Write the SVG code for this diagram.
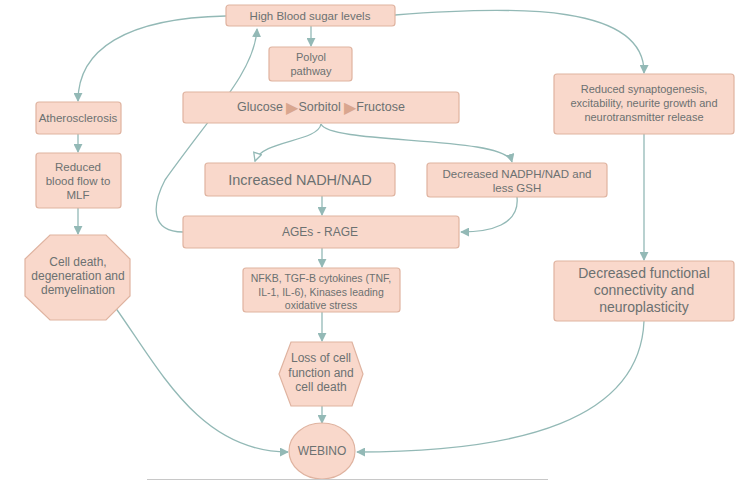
<svg xmlns="http://www.w3.org/2000/svg" width="750" height="481" viewBox="0 0 750 481">
<defs>
<style>
.n{fill:#f9d8cb;stroke:#dfb3a0;stroke-width:1.2}
.t{font-family:"Liberation Sans",Arial,sans-serif;fill:#6c7171;text-anchor:middle;dominant-baseline:central}
.c{fill:none;stroke:#93b9b6;stroke-width:1.3}
.tri{fill:#d9a68f;font-size:16px}
</style>
<marker id="a" viewBox="0 0 10 10" refX="9" refY="5" markerWidth="9" markerHeight="9" markerUnits="userSpaceOnUse" orient="auto">
<path d="M0,0 L10,5 L0,10 Z" fill="#93b9b6"/>
</marker>
<marker id="o" viewBox="0 0 10 10" refX="9" refY="5" markerWidth="10" markerHeight="10" markerUnits="userSpaceOnUse" orient="auto">
<path d="M1,1 L9,5 L1,9 Z" fill="#fff" stroke="#93b9b6" stroke-width="1.3"/>
</marker>
</defs>
<rect width="750" height="481" fill="#fff"/>
<g id="connectors">
<path class="c" d="M311,26 L311,46" marker-end="url(#a)"/>
<path class="c" d="M226,16 C125,18 78,50 78,101" marker-end="url(#a)"/>
<path class="c" d="M395,15 C520,5 645,5 644,73" marker-end="url(#a)"/>
<path class="c" d="M321,124 C318,142 262,140 255,161" marker-end="url(#o)"/>
<path class="c" d="M321,124 C330,145 505,135 512,162" marker-end="url(#a)"/>
<path class="c" d="M322,196 L322,215" marker-end="url(#a)"/>
<path class="c" d="M517,197 C520,225 490,232 461,232" marker-end="url(#a)"/>
<path class="c" d="M183,232 C150,232 152,205 165,180 C215,110 255,70 257,29" marker-end="url(#a)"/>
<path class="c" d="M322,248 L322,267" marker-end="url(#a)"/>
<path class="c" d="M322,312 L322,341" marker-end="url(#a)"/>
<path class="c" d="M322,406 L322,423" marker-end="url(#a)"/>
<path class="c" d="M78,134 L78,152" marker-end="url(#a)"/>
<path class="c" d="M78,208 L78,234" marker-end="url(#a)"/>
<path class="c" d="M115,307 C160,370 200,452 288,452" marker-end="url(#a)"/>
<path class="c" d="M644,134 L644,260" marker-end="url(#a)"/>
<path class="c" d="M644,321 C640,420 520,452 357,452" marker-end="url(#a)"/>
</g>
<g id="high-blood-sugar"><rect class="n" x="226" y="5" width="169" height="21" rx="3"/><text class="t" x="310" y="16" font-size="11.5">High Blood sugar levels</text></g>
<g id="polyol"><rect class="n" x="269" y="47" width="83" height="34" rx="3"/><text class="t" x="311" y="57" font-size="11">Polyol</text><text class="t" x="311" y="71" font-size="11">pathway</text></g>
<g id="glucose"><rect class="n" x="183" y="92" width="276" height="31" rx="3"/><text class="t" x="321" y="107" font-size="12.5">Glucose <tspan class="tri">▶</tspan>Sorbitol <tspan class="tri">▶</tspan>Fructose</text></g>
<g id="nadh"><rect class="n" x="205" y="163" width="190" height="33" rx="3"/><text class="t" x="300" y="180" font-size="14.5">Increased NADH/NAD</text></g>
<g id="nadph"><rect class="n" x="427" y="163" width="180" height="34" rx="3"/><text class="t" x="517" y="174" font-size="11.5">Decreased NADPH/NAD and</text><text class="t" x="517" y="188" font-size="11.5">less GSH</text></g>
<g id="ages"><rect class="n" x="183" y="216" width="276" height="32" rx="3"/><text class="t" x="320" y="232" font-size="12">AGEs - RAGE</text></g>
<g id="nfkb"><rect class="n" x="243" y="268" width="157" height="44" rx="3"/><text class="t" x="321" y="278" font-size="10.5">NFKB, TGF-B cytokines (TNF,</text><text class="t" x="321" y="291.5" font-size="10.5">IL-1, IL-6), Kinases leading</text><text class="t" x="321" y="305" font-size="10.5">oxidative stress</text></g>
<g id="loss"><polygon class="n" points="279,374 291,342 352,342 363,374 352,406 291,406"/><text class="t" x="321" y="358" font-size="12">Loss of cell</text><text class="t" x="321" y="372.5" font-size="12">function and</text><text class="t" x="321" y="387" font-size="12">cell death</text></g>
<g id="webino"><ellipse class="n" cx="322" cy="451" rx="33" ry="28"/><text class="t" x="322" y="451" font-size="12">WEBINO</text></g>
<g id="atherosclerosis"><rect class="n" x="36" y="102" width="85" height="32" rx="3"/><text class="t" x="78" y="118" font-size="11.5">Atherosclerosis</text></g>
<g id="blood-flow"><rect class="n" x="36" y="153" width="85" height="55" rx="3"/><text class="t" x="78" y="167" font-size="11.5">Reduced</text><text class="t" x="78" y="181" font-size="11.5">blood flow to</text><text class="t" x="78" y="195" font-size="11.5">MLF</text></g>
<g id="cell-death"><polygon class="n" points="50,235 106,235 130,259 130,296 106,320 50,320 25,296 25,259"/><text class="t" x="78" y="262" font-size="12">Cell death,</text><text class="t" x="78" y="276" font-size="12">degeneration and</text><text class="t" x="78" y="290" font-size="12">demyelination</text></g>
<g id="synaptogenesis"><rect class="n" x="554" y="74" width="180" height="60" rx="3"/><text class="t" x="644" y="88.5" font-size="11">Reduced synaptogenesis,</text><text class="t" x="644" y="102.5" font-size="11">excitability, neurite growth and</text><text class="t" x="644" y="116.5" font-size="11">neurotransmitter release</text></g>
<g id="connectivity"><rect class="n" x="554" y="261" width="180" height="60" rx="3"/><text class="t" x="644" y="273" font-size="14">Decreased functional</text><text class="t" x="644" y="290" font-size="14">connectivity and</text><text class="t" x="644" y="307" font-size="14">neuroplasticity</text></g>
<line x1="147" y1="479.5" x2="548" y2="479.5" stroke="#c8c8c8" stroke-width="1.2"/>
</svg>
